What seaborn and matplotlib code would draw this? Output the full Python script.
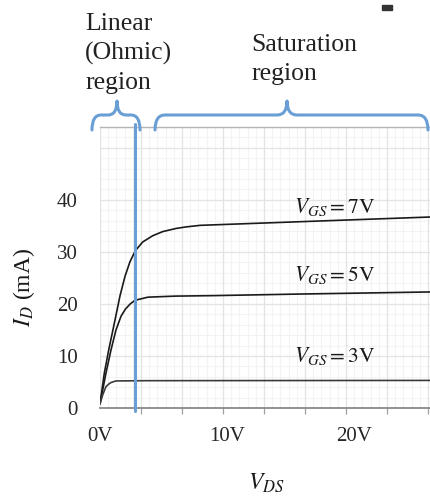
import numpy as np
import pandas as pd
import matplotlib
matplotlib.use("Agg")
import matplotlib.pyplot as plt
import seaborn as sns
from matplotlib.path import Path
from matplotlib.patches import PathPatch, Rectangle
from matplotlib.ticker import MultipleLocator

# ---- data ----
VDS_7 = [0.0, 0.34, 0.69, 1.13, 1.58, 1.97, 2.36, 2.78, 3.36, 4.15, 4.94, 5.99, 6.78, 7.88, 15.76, 26.0]
ID_7 = [0.8, 6.7, 11.2, 16.3, 21.6, 25.3, 28.1, 30.2, 31.9, 33.1, 33.9, 34.5, 34.8, 35.1, 35.8, 36.7]
VDS_5 = [0.0, 0.47, 0.87, 1.26, 1.65, 2.0, 2.38, 2.76, 3.78, 5.91, 9.06, 15.76, 26.0]
ID_5 = [0.8, 6.7, 11.2, 15.0, 17.6, 19.0, 20.0, 20.7, 21.3, 21.5, 21.6, 21.9, 22.3]
VDS_3 = [0.0, 0.21, 0.47, 0.69, 0.87, 1.26, 3.62, 26.0]
ID_3 = [0.8, 2.5, 4.1, 4.6, 4.9, 5.2, 5.25, 5.3]

VGS_NAMES = ["7V", "5V", "3V"]
VGS_LABELS = [r"$V_{GS} = 7\mathrm{V}$", r"$V_{GS} = 5\mathrm{V}$", r"$V_{GS} = 3\mathrm{V}$"]
LABEL_POS = [(18.5, 38.6), (18.5, 25.5), (18.5, 9.9)]
V_BOUNDARY = 2.76

X_TICKS = [0, 10, 20]
X_TICKLABELS = ["0V", "10V", "20V"]
Y_TICKS = [0, 10, 20, 30, 40]
Y_TICKLABELS = ["0", "10", "20", "30", "40"]

REGION_TEXT = ["Linear\n(Ohmic)\nregion", "Saturation\nregion"]

# ---- build table ----
frames = []
for name, vx, iy in zip(VGS_NAMES, [VDS_7, VDS_5, VDS_3], [ID_7, ID_5, ID_3]):
    frames.append(pd.DataFrame({"VDS": vx, "ID": iy, "VGS": name}))
df = pd.concat(frames, ignore_index=True)

sns.set_style("white")
plt.rcParams["font.family"] = ["Liberation Serif", "DejaVu Serif"]
plt.rcParams["mathtext.fontset"] = "stix"

W, H = 430, 498
fig = plt.figure(figsize=(W / 100, H / 100), dpi=100)
ax = fig.add_axes([100 / W, 90 / H, 330 / W, 281 / H])

XMAX, YMAX = 26.0, 54.0
GRID_X = 3.23

# grid
for gx in np.arange(0, XMAX + 0.01, GRID_X / 5):
    ax.axvline(gx, color="#f3f3f3", lw=0.8, zorder=0)
for gy in np.arange(0, YMAX + 0.01, 2):
    ax.axhline(gy, color="#f3f3f3", lw=0.8, zorder=0)
for gx in np.arange(0, XMAX + 0.01, GRID_X):
    ax.axvline(gx, color="#e4e4e4", lw=0.9, zorder=0)
for gy in np.arange(0, YMAX + 0.01, 10):
    ax.axhline(gy, color="#e4e4e4", lw=0.9, zorder=0)

sns.lineplot(data=df, x="VDS", y="ID", hue="VGS", hue_order=VGS_NAMES,
             palette=["#1a1a1a", "#1a1a1a", "#3a3a3a"], estimator=None, sort=False,
             legend=False, lw=1.2, ax=ax, zorder=3)

ax.axvline(V_BOUNDARY, ymin=-0.01, ymax=1.01, color="#6A9FD6", lw=2.2, zorder=4, clip_on=False)

for lab, (lx, ly) in zip(VGS_LABELS, LABEL_POS):
    ax.text(lx, ly, lab, ha="center", va="center", fontsize=15.5, color="#1a1a1a", zorder=5)

ax.set_xlim(0, XMAX)
ax.set_ylim(0, YMAX)
ax.set_xticks(X_TICKS)
ax.set_xticklabels(X_TICKLABELS)
ax.set_yticks(Y_TICKS)
ax.set_yticklabels(Y_TICKLABELS)
ax.xaxis.set_minor_locator(MultipleLocator(GRID_X))
ax.tick_params(axis="x", which="major", length=0, pad=14, labelsize=15, labelcolor="#262626")
ax.tick_params(axis="x", which="minor", length=4, width=0.9, color="#a0a0a0", direction="out", bottom=True)
ax.tick_params(axis="y", length=0, pad=16, labelsize=15, labelcolor="#262626")
ax.grid(False)
for s in ["left", "right"]:
    ax.spines[s].set_visible(False)
ax.spines["bottom"].set_color("#8a8a8a")
ax.spines["bottom"].set_linewidth(1.3)
ax.spines["top"].set_color("#b5b5b5")
ax.spines["top"].set_linewidth(1.0)
ax.patch.set_alpha(0)

ax.set_ylabel(r"$I_D$ (mA)", fontsize=17, color="#1a1a1a")
ax.yaxis.set_label_coords(-0.19, 0.43)
ax.set_xlabel(r"$V_{DS}$", fontsize=17, color="#1a1a1a")
ax.xaxis.set_label_coords(0.503, -0.225)


def P(x, y):
    return (x / W, 1 - y / H)


def brace(x0, x1, xm, yb, ym, yt, r):
    verts = [P(x0, yb), P(x0, ym), P(x0 + r, ym), P(xm - r, ym), P(xm, ym), P(xm, yt),
             P(xm, ym), P(xm + r, ym), P(x1 - r, ym), P(x1, ym), P(x1, yb)]
    codes = [Path.MOVETO, Path.CURVE3, Path.CURVE3, Path.LINETO, Path.CURVE3, Path.CURVE3,
             Path.CURVE3, Path.CURVE3, Path.LINETO, Path.CURVE3, Path.CURVE3]
    fig.patches.append(PathPatch(Path(verts, codes), transform=fig.transFigure, fill=False,
                                 edgecolor="#6A9FD6", lw=2.2, capstyle="round", joinstyle="round"))


brace(92, 140, 117, 130, 115, 101, 9)
brace(155, 428, 287, 130, 115, 101, 10)

fig.text(*P(85, 13), REGION_TEXT[0], ha="left", va="top", fontsize=18.5, color="#222222", linespacing=1.4)
fig.text(*P(251, 34), REGION_TEXT[1], ha="left", va="top", fontsize=18.5, color="#222222", linespacing=1.4)

fig.patches.append(Rectangle(P(382, 10), 10 / W, 5 / H, transform=fig.transFigure, color="#333333"))

fig.savefig("out.png", dpi=100)
